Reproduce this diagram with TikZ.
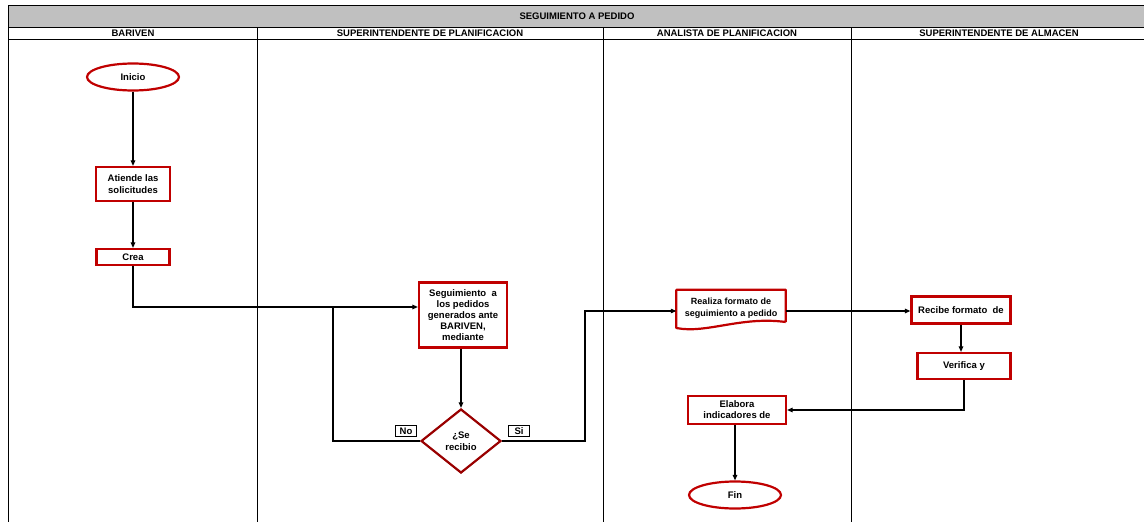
\documentclass[tikz,border=0pt]{standalone}
\usepackage{fontspec}
\setmainfont{Liberation Sans}
\usetikzlibrary{arrows.meta, positioning, calc, shapes.geometric}
\definecolor{boxred}{HTML}{C00000}
\definecolor{decisionred}{HTML}{990000}
\definecolor{bandgray}{HTML}{C0C0C0}

\begin{document}
\begin{tikzpicture}[
    x=1pt, y=-1pt,
    font=\bfseries\fontsize{9.5}{12}\selectfont,
    >={Triangle[length=5.5pt, width=4.5pt]},
    lanehead/.style={font=\bfseries\fontsize{9.5}{10}\selectfont},
    frameline/.style={line width=0.9pt},
    laneline/.style={line width=0.7pt},
    terminal/.style={ellipse, draw=boxred, line width=2.2pt, inner sep=0pt,
                     minimum width=92pt, minimum height=27pt},
    task/.style={rectangle, draw=boxred, line width=2.2pt, align=center,
                 inner sep=1pt, font=\bfseries\fontsize{9.5}{12}\selectfont},
    decision/.style={diamond, draw=decisionred, line width=2.2pt, align=center,
                     inner sep=0pt, minimum width=80pt, minimum height=64pt},
    tag/.style={draw, line width=1pt, inner sep=0pt, minimum width=21pt,
                minimum height=11pt},
    flow/.style={line width=1.1pt},
]

\useasboundingbox (0,0) rectangle (1144,522);

% Title band and lane headers
\fill[bandgray] (8,5) rectangle (1144,27);
\draw[frameline] (8,5) -- (1144,5);
\draw[frameline] (8,27) -- (1144,27);
\draw[frameline] (8,39) -- (1144,39);
\draw[frameline] (8,5) -- (8,522);
\node[lanehead] (title) at (577,16) {SEGUIMIENTO A PEDIDO};

\foreach \xl in {257, 603, 851}
    \draw[laneline] (\xl,27) -- (\xl,522);

\node[lanehead] (hbariven)  at (133,33.5) {BARIVEN};
\node[lanehead] (hplan)     at (430,33.5) {SUPERINTENDENTE DE PLANIFICACION};
\node[lanehead] (hanalista) at (727,33.5) {ANALISTA DE PLANIFICACION};
\node[lanehead] (halmacen)  at (999,33.5) {SUPERINTENDENTE DE ALMACEN};

% BARIVEN
\node[terminal] (inicio) at (133,77) {Inicio};
\node[task, minimum width=74pt, minimum height=34pt] (atiende) at (133,184)
    {Atiende las\\solicitudes};
\node[task, minimum width=73pt, minimum height=16pt] (crea) at (133,257) {Crea};

% SUPERINTENDENTE DE PLANIFICACION
\node[task, minimum width=88pt, minimum height=65pt, font=\bfseries\fontsize{9.5}{11}\selectfont]
    (seguimiento) at (463,315)
    {Seguimiento\ \ a\\los pedidos\\generados ante\\BARIVEN,\\mediante};
\node[decision] (serecibio) at (461,441) {¿Se\\recibio};
\node[tag] (tagno) at (406,431) {No};
\node[tag] (tagsi) at (519,431) {Si};
\coordinate (join) at (333,307);
\coordinate (sibend) at (585,311);

% ANALISTA DE PLANIFICACION
\node[align=center, minimum width=109pt, minimum height=36pt, inner sep=0pt,
      font=\bfseries\fontsize{9}{12}\selectfont]
    (realiza) at (731,308) {Realiza formato de\\seguimiento a pedido};
\draw[boxred, line width=2.2pt, line join=round]
    ($(realiza.east)+(0,14)$) -- (realiza.north east) -- (realiza.north west)
    -- ($(realiza.west)+(0,20)$)
    .. controls ($(realiza.west)+(30,26)$) and ($(realiza.east)+(-45,8)$)
    .. ($(realiza.east)+(0,14)$);
\node[task, minimum width=98pt, minimum height=28pt, font=\bfseries\fontsize{9.5}{11}\selectfont]
    (elabora) at (737,410) {Elabora\\indicadores de};
\node[terminal] (fin) at (735,495) {Fin};

% SUPERINTENDENTE DE ALMACEN
\node[task, minimum width=99pt, minimum height=27pt] (recibe) at (961,310)
    {Recibe formato\ \ de};
\node[task, minimum width=93pt, minimum height=26pt] (verifica) at (964,366)
    {Verifica y};

% Connectors
\draw[flow, ->] (inicio) -- (atiende);
\draw[flow, ->] (atiende) -- (crea);
\draw[flow, ->] (crea.south) |- (join) -- (seguimiento.west |- join);
\draw[flow, ->] (seguimiento.south -| serecibio.north) -- (serecibio.north);
\draw[flow] (serecibio.west) -| (join);
\draw[flow, ->] (serecibio.east) -| (sibend) -- (realiza.west |- sibend);
\draw[flow, ->] (realiza.east |- sibend) -- (recibe.west |- sibend);
\draw[flow, ->] (recibe.south) -- (recibe.south |- verifica.north);
\draw[flow, ->] (verifica.south) |- (elabora.east);
\draw[flow, ->] (elabora.south -| fin.north) -- (fin.north);

\end{tikzpicture}
\end{document}
